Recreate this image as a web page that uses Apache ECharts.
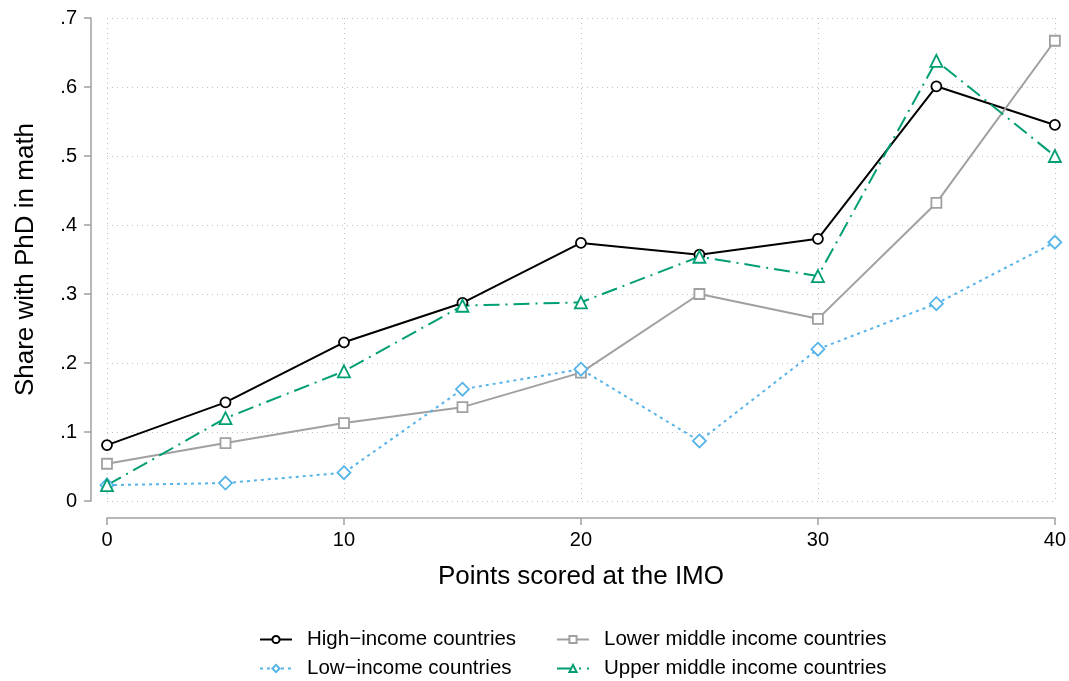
<!DOCTYPE html>
<html><head><meta charset="utf-8">
<script src="https://cdn.jsdelivr.net/npm/echarts@6/dist/echarts.min.js"></script>
<style>html,body{margin:0;padding:0;background:#fff}#c{width:1069px;height:681px}</style>
</head><body><div id="c"></div>
<script>
const points = [0, 5, 10, 15, 20, 25, 30, 35, 40];
const highIncome = [0.081, 0.143, 0.230, 0.287, 0.374, 0.357, 0.380, 0.601, 0.545];
const lowerMiddle = [0.054, 0.084, 0.113, 0.136, 0.186, 0.300, 0.264, 0.432, 0.667];
const lowIncome = [0.023, 0.026, 0.041, 0.162, 0.191, 0.087, 0.220, 0.286, 0.375];
const upperMiddle = [0.023, 0.120, 0.188, 0.283, 0.288, 0.354, 0.326, 0.638, 0.500];
const yTicks = ['0', '.1', '.2', '.3', '.4', '.5', '.6', '.7'];

const font = 'Liberation Sans, Arial, sans-serif';
const pair = arr => points.map((x, i) => [x, arr[i]]);

function mk(name, data, color, lineType, symbol, size) {
  return {
    name, type: 'line', data: pair(data), symbol, symbolSize: size,
    showSymbol: true,
    itemStyle: { color: '#fff', borderColor: color, borderWidth: 1.8 },
    lineStyle: { color, width: 2, type: lineType },
    emphasis: { disabled: true }, animation: false, z: 3
  };
}

const legendCommon = {
  orient: 'vertical', top: 624, height: 60,
  itemWidth: 32, itemHeight: 9, itemGap: 8,
  textStyle: { fontFamily: font, fontSize: 20.5, color: '#000', padding: [0, 0, 0, 10] }
};

const chart = echarts.init(document.getElementById('c'), null, { renderer: 'canvas' });
chart.setOption({
  backgroundColor: '#fff',
  animation: false,
  grid: { left: 107, right: 14, top: 18, bottom: 180 },
  xAxis: {
    type: 'value', min: 0, max: 40, interval: 10, offset: 17,
    name: 'Points scored at the IMO', nameLocation: 'middle', nameGap: 46,
    nameTextStyle: { fontFamily: font, fontSize: 26, color: '#000' },
    axisLine: { onZero: false, lineStyle: { color: '#a0a0a0', width: 1.5 } },
    axisTick: { show: true, length: 7, lineStyle: { color: '#a0a0a0', width: 1.5 } },
    axisLabel: { fontFamily: font, fontSize: 20, color: '#000', margin: 12 },
    splitLine: { show: true, lineStyle: { color: '#c0c0c0', type: [1, 4], width: 1 } }
  },
  yAxis: {
    type: 'value', min: 0, max: 0.7, interval: 0.1, offset: 16,
    name: 'Share with PhD in math', nameLocation: 'middle', nameGap: 52, nameRotate: 90,
    nameTextStyle: { fontFamily: font, fontSize: 26, color: '#000' },
    axisLine: { show: true, onZero: false, lineStyle: { color: '#a0a0a0', width: 1.5 } },
    axisTick: { show: true, length: 7, lineStyle: { color: '#a0a0a0', width: 1.5 } },
    axisLabel: { fontFamily: font, fontSize: 20, color: '#000', margin: 14,
      formatter: v => yTicks[Math.round(v * 10)] },
    splitLine: { show: true, lineStyle: { color: '#c0c0c0', type: [1, 4], width: 1 } }
  },
  legend: [
    Object.assign({ data: ['High−income countries', 'Low−income countries'], left: 254 }, legendCommon),
    Object.assign({ data: ['Lower middle income countries', 'Upper middle income countries'], left: 551 }, legendCommon)
  ],
  series: [
    mk('High−income countries', highIncome, '#000000', 'solid', 'circle', 10),
    mk('Lower middle income countries', lowerMiddle, '#a0a0a0', 'solid', 'rect', 10),
    mk('Low−income countries', lowIncome, '#56b4e9', [3, 4], 'diamond', 13),
    mk('Upper middle income countries', upperMiddle, '#009e73', [16, 6, 2, 6], 'triangle', 12)
  ]
});
</script></body></html>
